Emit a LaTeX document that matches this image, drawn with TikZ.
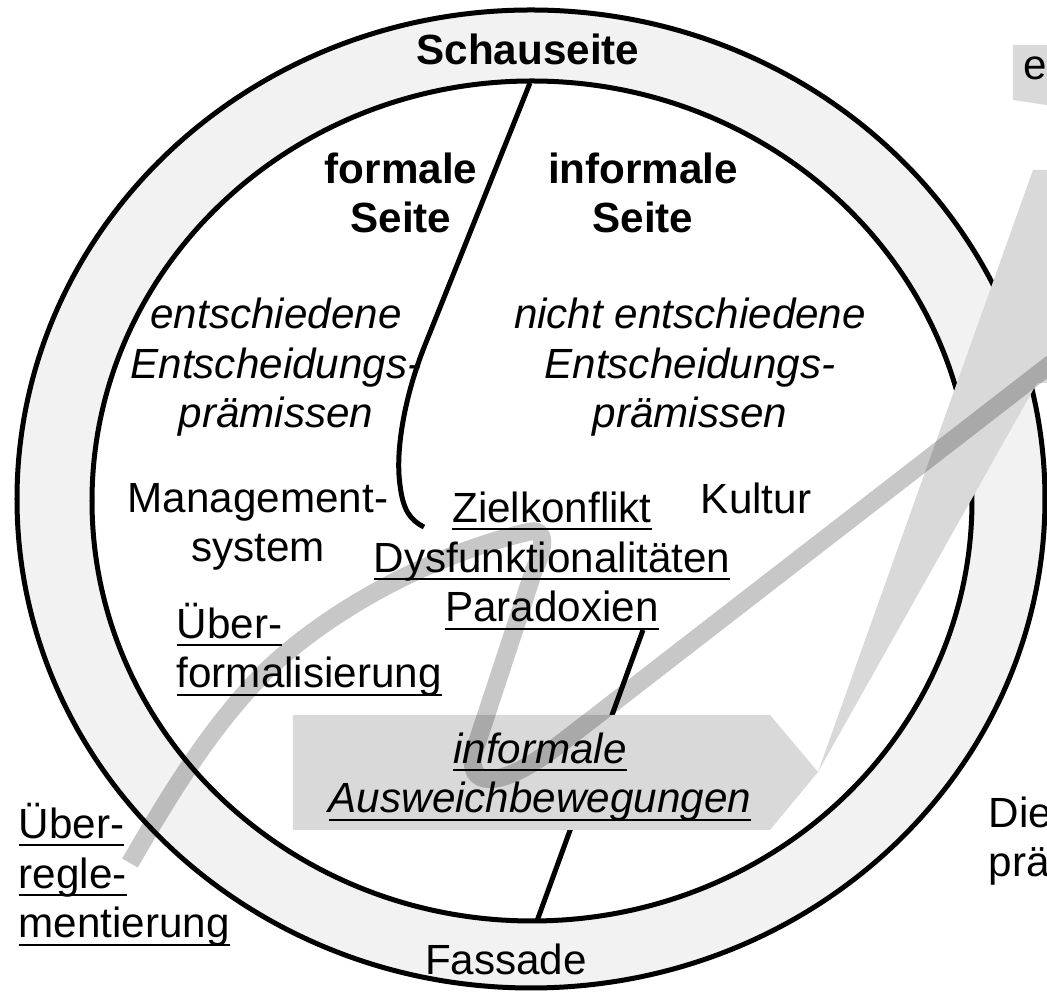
\documentclass[tikz,border=0pt]{standalone}
\usepackage{fontspec}
\setmainfont{Liberation Sans}
\usetikzlibrary{positioning}
\definecolor{ringgray}{HTML}{F2F2F2}
\definecolor{boxgray}{HTML}{D9D9D9}
\newsavebox{\ulbox}
\newcommand{\uln}[1]{\sbox\ulbox{#1}\rlap{\rule[-2.3pt]{\wd\ulbox}{0.6pt}}\usebox\ulbox}

\begin{document}
\begin{tikzpicture}[
x=0.01cm, y=-0.01cm,
txt/.style={inner sep=0pt, align=center, anchor=base, font=\fontsize{12}{14.2}\selectfont},
head/.style={txt, font=\fontsize{12}{14.2}\selectfont\bfseries},
prem/.style={txt, font=\fontsize{12}{14.2}\selectfont\itshape},
rim/.style={line width=0.05cm},
band/.style={line width=0.18cm, draw=black, draw opacity=0.22}
]
\useasboundingbox (0,0) rectangle (1047,995);
% Schauseite ring and inner side
\filldraw[rim, fill=ringgray] (531,499) ellipse [x radius=514, y radius=489];
\filldraw[rim, fill=white] (532,501) ellipse [x radius=440, y radius=420];
% border between formal and informal side
\draw[rim] (530,83) -- (425,345) .. controls (405,395) and (395,450) .. (400,485)
  .. controls (403,510) and (410,520) .. (424,527);
\draw[rim] (643,630) -- (537,921);

% (base = baseline of the last line)
\node[head] (schau) at (528,65) {Schauseite};
\node[head] (formal) at (401,233) {formale\\Seite};
\node[head] (informal) at (643,233) {informale\\Seite};
\node[prem] (entsch) at (276,428) {entschiedene\\Entscheidungs-\\prämissen};
\node[prem] (nichtent) at (690,428) {nicht entschiedene\\Entscheidungs-\\prämissen};
\node[txt] (mgmt) at (258,562) {Management-\\system};
\node[txt] (kultur) at (756,514) {Kultur};
\node[txt] (konflikt) at (552,622) {\uln{Zielkonflikt}\\\uln{Dysfunktionalitäten}\\\uln{Paradoxien}};
\node[txt, align=left, anchor=base west] (uform) at (176,688) {\uln{Über-}\\\uln{formalisierung}};
\node[txt, align=left, anchor=base west] (ureg) at (18,938) {\uln{Über-}\\\uln{regle-}\\\uln{mentierung}};
\node[txt] (fassade) at (506,975) {Fassade};

% informal evasive movements
\coordinate (tip) at (818,772);
\fill[boxgray] (293,715) -- (770,715) -- (tip) -- (770,830) -- (293,830) -- cycle;
\node[prem] (ausw) at (540,813) {\uln{informale}\\\uln{Ausweichbewegungen}};
\fill[boxgray] (tip) -- (1033,170) -- (1060,170) -- (1060,383) -- (1037,383) -- cycle;
\fill[boxgray] (1013,45) -- (1060,45) -- (1060,107) -- (1013,100) -- cycle;
\node[txt, anchor=base west] (e) at (1023,80) {e};
\node[txt, align=left, anchor=base west] (die) at (988,877) {Die\\prä};

% loop
\draw[band] (130,863) .. controls (175,785) and (215,722) .. (267,670)
  .. controls (330,610) and (430,555) .. (528,532)
  .. controls (548,527) and (544,550) .. (534,570) -- (474,752)
  .. controls (466,785) and (495,794) .. (560,744) -- (1100,326);
\end{tikzpicture}
\end{document}
